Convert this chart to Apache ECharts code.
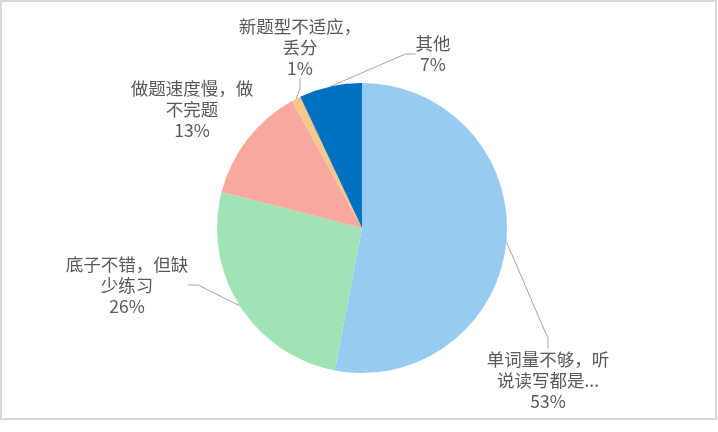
<!DOCTYPE html>
<html><head><meta charset="utf-8">
<script src="https://cdn.jsdelivr.net/npm/echarts@6/dist/echarts.min.js"></script>
<style>html,body{margin:0;padding:0;background:#fff}#c{width:718px;height:432px}</style>
</head><body><div id="c"></div>
<script>
const categories = ['单词量不够，听\n说读写都是...', '底子不错，但缺\n少练习', '做题速度慢，做\n不完题', '新题型不适应，\n丢分', '其他'];
const values = [53, 26, 13, 1, 7];
const colors = ['#97CBF2', '#A0E4B6', '#F9A8A0', '#F8C88A', '#0070C0'];
// label block centres (layout only)
const labelPos = [[548, 380], [127, 285], [192, 109], [300, 47], [433, 54]];
const showLine = [true, true, false, true, true];

const chart = echarts.init(document.getElementById('c'), null, {renderer: 'canvas'});
chart.setOption({
  backgroundColor: '#fff',
  animation: false,
  graphic: [{
    type: 'rect', z: -1,
    shape: {x: 1, y: 1, width: 715, height: 418},
    style: {fill: 'none', stroke: '#d9d9d9', lineWidth: 2}
  }],
  series: [{
    type: 'pie',
    center: [362, 228],
    radius: 145,
    startAngle: 90,
    clockwise: true,
    avoidLabelOverlap: false,
    label: {
      show: true,
      formatter: '{b}\n{d}%',
      fontFamily: '"Noto Sans CJK SC", sans-serif',
      fontSize: 17.5,
      lineHeight: 21,
      color: '#595959',
      align: 'center'
    },
    labelLine: {show: true, lineStyle: {color: '#a6a6a6', width: 1}, length: 15, length2: 10},
    labelLayout: function (p) {
      const pos = labelPos[p.dataIndex];
      return {x: pos[0], y: pos[1], align: 'center', verticalAlign: 'middle', draggable: false};
    },
    itemStyle: {borderColor: '#fff', borderWidth: 0},
    emphasis: {disabled: true},
    data: categories.map((n, i) => ({
      name: n, value: values[i],
      itemStyle: {color: colors[i]},
      labelLine: {show: showLine[i]}
    }))
  }]
});
</script></body></html>
